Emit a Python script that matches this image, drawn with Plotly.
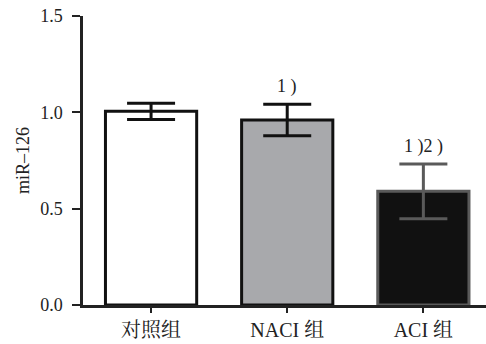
import plotly.graph_objects as go

# Relative miR-126 expression per group (mean ± SD)
groups = ["对照组", "NACI 组", "ACI 组"]
means = [1.005, 0.96, 0.59]
errors = [0.042, 0.082, 0.142]
sig_labels = ["", "1 )", "1 )2 )"]

fill_colors = ["#ffffff", "#a8a9ac", "#111111"]
edge_colors = ["#111111", "#111111", "#5a5a5a"]
err_colors = ["#111111", "#111111", "#5a5a5a"]

serif = "Liberation Serif, Times New Roman, Noto Serif CJK SC, Noto Sans CJK SC, serif"

fig = go.Figure()
for i, g in enumerate(groups):
    fig.add_trace(go.Bar(
        x=[g], y=[means[i]], width=0.67,
        marker=dict(color=fill_colors[i], line=dict(color=edge_colors[i], width=3)),
        error_y=dict(type="data", array=[errors[i]], visible=True,
                     color=err_colors[i], thickness=3, width=24),
        showlegend=False,
    ))
    if sig_labels[i]:
        fig.add_annotation(x=g, y=means[i] + errors[i], text=sig_labels[i],
                           showarrow=False, yanchor="bottom", yshift=5,
                           font=dict(family=serif, size=18, color="#222"))

fig.update_layout(
    width=486, height=344,
    margin=dict(l=83, r=0, t=16, b=39),
    plot_bgcolor="white", paper_bgcolor="white",
    barmode="overlay",
    font=dict(family=serif, size=18, color="#222"),
    xaxis=dict(
        type="category", range=[-0.5, 2.46],
        showline=True, linecolor="#222", linewidth=2.5,
        ticks="outside", ticklen=5, tickwidth=2, tickcolor="#222",
        tickfont=dict(family=serif, size=20, color="#222"),
        showgrid=False, zeroline=False,
    ),
    yaxis=dict(
        range=[0, 1.5], tickvals=[0, 0.5, 1.0, 1.5],
        ticktext=["0.0", "0.5", "1.0", "1.5"],
        showline=True, linecolor="#222", linewidth=2.5,
        ticks="outside", ticklen=8, tickwidth=2, tickcolor="#222",
        ticklabelstandoff=6,
        tickfont=dict(family=serif, size=18, color="#222"),
        showgrid=False, zeroline=False,
        title=dict(text="miR–126", font=dict(family=serif, size=18, color="#222"),
                   standoff=6),
    ),
)

fig.write_html("out.html")
